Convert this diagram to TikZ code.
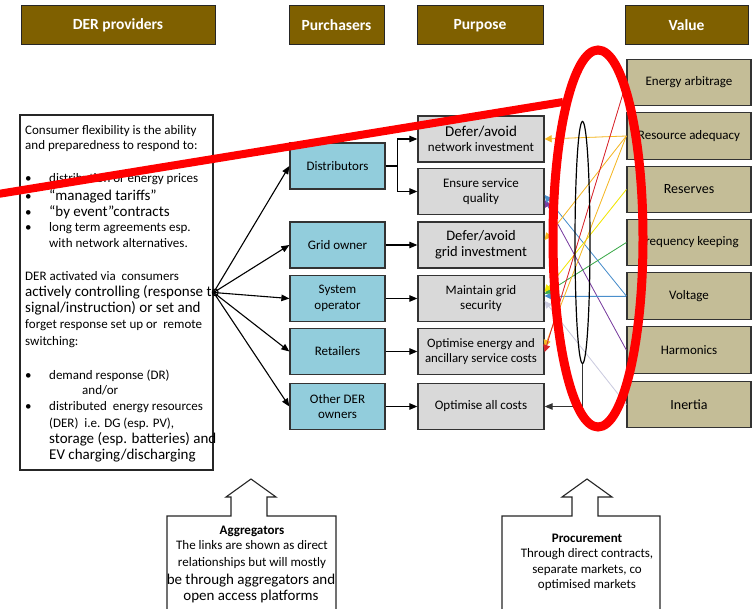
\documentclass[tikz,border=0pt]{standalone}
\usepackage{fontspec}
\setmainfont{Carlito}
\usetikzlibrary{arrows.meta,shapes.geometric}
\definecolor{hdr}{HTML}{7F6000}
\definecolor{pblue}{HTML}{92CDDC}
\definecolor{pgray}{HTML}{D9D9D9}
\definecolor{vtan}{HTML}{C4BD97}
\definecolor{cgold}{HTML}{F5B826}
\definecolor{cyel}{HTML}{F2E600}
\definecolor{cgreen}{HTML}{3DAA4A}
\definecolor{cblue}{HTML}{4A8FCC}
\definecolor{cpurp}{HTML}{7A3FA0}
\definecolor{clav}{HTML}{CCCCE0}
\definecolor{cred}{HTML}{D8232A}
\definecolor{annot}{HTML}{FF0000}
\newcommand\fsn{\fontsize{13}{15.5}\selectfont}
\newcommand\fbg{\fontsize{15}{16}\selectfont}
\begin{document}
\begin{tikzpicture}[x=1pt,y=-1pt,
  hdrbox/.style={draw=black!85, line width=1pt, fill=hdr, text=white,
    font=\fontsize{15.5}{18}\selectfont\bfseries, minimum height=39pt, inner sep=0pt},
  pbox/.style={draw=black!80, line width=1.3pt, fill=pblue, minimum width=95pt,
    minimum height=46pt, align=center, font=\fsn, inner sep=0pt},
  gbox/.style={pbox, fill=pgray, minimum width=126pt},
  vbox/.style={pbox, fill=vtan, minimum width=124pt, minimum height=46.5pt},
  blk/.style={-{Triangle[length=8pt,width=6.5pt]}, line width=1.1pt, draw=black},
  col/.style={-{Triangle[length=7pt,width=7pt]}, line width=0.8pt, draw=#1, fill=#1},
  ltx/.style={anchor=base west, inner sep=0pt, font=\fsn},
  lbg/.style={anchor=base west, inner sep=0pt, font=\fbg},
  ctx/.style={anchor=base, inner sep=0pt, font=\fsn},
  cbg/.style={anchor=base, inner sep=0pt, font=\fbg},
  blockarrow/.style={draw=black!85, line width=1.1pt, fill=white}
]
\useasboundingbox (0,0) rectangle (752,609);
\clip (0,0) rectangle (752,609);
\fill[white] (0,0) rectangle (752,609);

% headers
\node[hdrbox, minimum width=194pt] (h1) at (118,25.5) {DER providers};
\node[hdrbox, minimum width=95pt] (h2) at (336.5,25.5) {Purchasers};
\node[hdrbox, minimum width=126pt] (h3) at (480,25.5) {Purpose};
\node[hdrbox, minimum width=123pt] (h4) at (686.5,25) {Value};

% left box
\node[draw=black!85, line width=1.2pt, minimum width=193pt, minimum height=355pt, inner sep=0pt] (lbox) at (116.5,292.5) {};
\node[ltx] (t1) at (25,135) {Consumer flexibility is the ability};
\node[ltx] (t2) at (25,150) {and preparedness to respond to:};
\node[ltx] (b1) at (25,183) {•};
\node[ltx] (t3) at (49,183) {distribution or energy prices};
\node[ltx] (b2) at (25,201) {•};
\node[lbg] (t4) at (49,201) {“managed tariffs”};
\node[ltx] (b3) at (25,217) {•};
\node[lbg] (t5) at (49,217) {“by event”contracts};
\node[ltx] (b4) at (25,232) {•};
\node[ltx] (t6) at (49,232) {long term agreements esp.};
\node[ltx] (t7) at (49,248) {with network alternatives.};
\node[ltx] (t8) at (25,281) {DER activated via\ \ consumers};
\node[lbg] (t9) at (25,297) {actively controlling (response to};
\node[lbg] (t10) at (25,313) {signal/instruction) or set and};
\node[ltx] (t11) at (25,329) {forget response set up or\ \ remote};
\node[ltx] (t12) at (25,346) {switching:};
\node[ltx] (b5) at (25,379) {•};
\node[ltx] (t13) at (49,379) {demand response (DR)};
\node[ltx] (t14) at (82,394) {and/or};
\node[ltx] (b6) at (25,410) {•};
\node[ltx] (t15) at (49,410) {distributed\ \ energy resources};
\node[ltx] (t16) at (49,427) {(DER)\ \ i.e. DG (esp. PV),};
\node[lbg] (t17) at (49,443) {storage (esp. batteries) and};
\node[lbg] (t18) at (49,459) {EV charging/discharging};

% purchasers
\node[pbox] (dist) at (337.5,166) {Distributors};
\node[pbox] (gown) at (337.5,245) {Grid owner};
\node[pbox] (sysop) at (337.5,298.5) {System\\operator};
\node[pbox] (retl) at (337.5,351.5) {Retailers};
\node[pbox] (oder) at (337.5,406.5) {Other DER\\owners};

% purposes
\node[gbox] (unet) at (481,139) {{\fbg Defer/avoid}\\network investment};
\node[gbox] (uens) at (481,191.5) {Ensure service\\quality};
\node[gbox, font=\fontsize{14.5}{16}\selectfont] (ugrid) at (481,245) {Defer/avoid\\grid investment};
\node[gbox] (usec) at (481,298.5) {Maintain grid\\security};
\node[gbox, font=\fontsize{12.8}{15.5}\selectfont] (uopt) at (481,351.5) {Optimise energy and\\ancillary service costs};
\node[gbox] (uall) at (481,406.5) {Optimise all costs};

% values
\node[vbox] (venergy) at (689,82.5) {Energy arbitrage};
\node[vbox] (vres) at (689,136) {Resource adequacy};
\node[vbox, font=\fontsize{14}{16}\selectfont] (vreserves) at (689,189.5) {Reserves};
\node[vbox] (vfreq) at (689,242.5) {Frequency keeping};
\node[vbox] (vvol) at (689,296) {Voltage};
\node[vbox] (vharm) at (689,350) {Harmonics};
\node[vbox, font=\fontsize{14}{16}\selectfont] (vinertia) at (689,404.5) {Inertia};

% providers -> purchasers
\foreach \p in {dist,gown,sysop,retl,oder}
  \draw[blk] (lbox.east) -- (\p.west);

% purchasers -> purposes
\draw[blk] (dist.east) -- ++(12,0) |- (unet.west);
\draw[blk] (dist.east) -- ++(12,0) |- (uens.west);
\draw[blk] (gown.east) -- (ugrid.west);
\draw[blk] (sysop.east) -- (usec.west);
\draw[blk] (retl.east) -- (uopt.west);
\draw[blk] (oder.east) -- (uall.west);

% value -> purpose
\draw[col=clav] (vinertia.west) -- ([yshift=-2.5pt]usec.east);
\draw[col=cpurp] (vharm.west) -- ([yshift=-8.5pt]uens.east);
\draw[col=cblue] (vvol.west) -- ([yshift=-3.5pt]uens.east);
\draw[col=cblue] (vvol.west) -- ([yshift=2.5pt]usec.east);
\draw[col=cgreen] (vfreq.west) -- ([yshift=4.5pt]usec.east);
\draw[col=cyel] (vreserves.west) -- ([yshift=6.5pt]usec.east);
\draw[col=cgold] (vres.west) -- (unet.east);
\draw[col=cgold] (vres.west) -- ([yshift=5pt]ugrid.east);
\draw[col=cgold] (vres.west) -- ([yshift=4.5pt]uopt.east);
\draw[col=cred] (venergy.west) -- ([yshift=-0.5pt]uopt.east);

% procurement bundle
\node[draw=black, ellipse, line width=1.2pt, minimum width=15pt, minimum height=242pt, inner sep=0pt] (bell) at (582.5,242.5) {};
\draw[blk, line width=0.9pt, draw=black!80] (bell.south) |- (uall.east);

% bottom block arrows
\draw[blockarrow] (167,620) -- (167,516) -- (231,516) -- (231,497) -- (226,497) -- (251,479)
  -- (276,497) -- (267,497) -- (267,516) -- (336,516) -- (336,620);
\draw[blockarrow] (502,620) -- (502,516) -- (572,516) -- (572,497) -- (562,497) -- (587,479)
  -- (612,497) -- (598,497) -- (598,516) -- (660,516) -- (660,620);

\node[ctx, font=\fsn\bfseries] (ag1) at (252,534) {Aggregators};
\node[ctx] (ag2) at (252,549) {The links are shown as direct};
\node[ctx] (ag3) at (252,566) {relationships but will mostly};
\node[cbg] (ag4) at (251,584.5) {be through aggregators and};
\node[cbg] (ag5) at (251,600.5) {open access platforms};

\node[ctx, font=\fsn\bfseries] (pr1) at (587,542) {Procurement};
\node[ctx] (pr2) at (587,557) {Through direct contracts,};
\node[ctx] (pr3) at (587,573) {separate markets, co};
\node[ctx] (pr4) at (587,588) {optimised markets};

% red annotation
\coordinate (rl1) at (-5,194.5);
\coordinate (rl2) at (563,102);
\draw[annot, line width=8pt] (rl1) -- (rl2);
\draw[annot, line width=9pt] (598,238.5) ellipse [x radius=45pt, y radius=188.5pt];
\end{tikzpicture}
\end{document}
